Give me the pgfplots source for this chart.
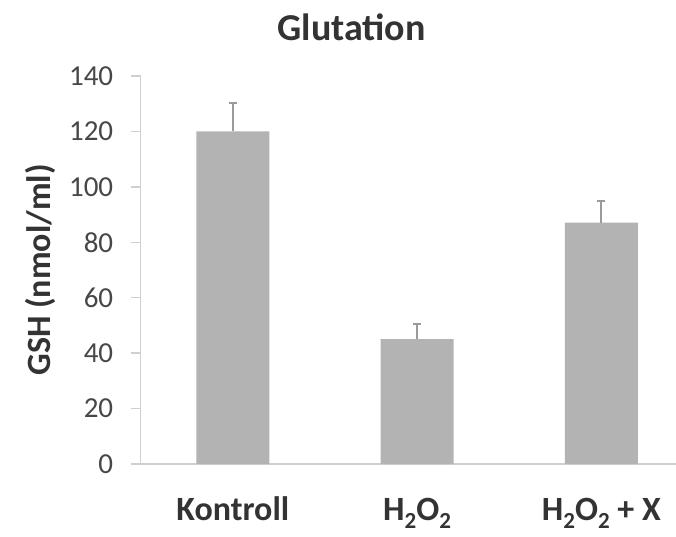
\documentclass[border=0pt]{standalone}
\usepackage{pgfplots}
\pgfplotsset{compat=1.18}
\usepackage{fontspec}
\setmainfont{Carlito}
\definecolor{barc}{HTML}{B3B3B3}
\definecolor{axc}{HTML}{D0D0D0}
\definecolor{errc}{HTML}{9A9A9A}
\definecolor{tickc}{HTML}{474747}
\definecolor{labc}{HTML}{333333}
\newcommand\sub[1]{\raisebox{-0.26em}{\fontsize{23}{23}\selectfont #1}}
\begin{document}
\begin{tikzpicture}
\begin{axis}[
  scale only axis,
  width=535.3pt, height=388pt,
  xmin=-0.5, xmax=2.405,
  ymin=0, ymax=140,
  ytick={0,20,40,60,80,100,120,140},
  xtick={0,1,2},
  xticklabels={Kontroll, H\sub{2}O\sub{2}, H\sub{2}O\sub{2} + X},
  axis x line*=bottom, axis y line*=left,
  axis line style={-, draw=axc, line width=1.5pt},
  tick align=outside,
  major tick length=10pt,
  x tick style={draw=none},
  ytick style={draw=axc, line width=1.5pt},
  extra x ticks={-0.5,0.5,1.5},
  extra x tick labels={},
  extra x tick style={major tick length=11pt, tick style={draw=axc, line width=1.5pt}},
  /pgf/number format/assume math mode=true,
  yticklabel style={font=\fontsize{29}{34}\selectfont, text=tickc, anchor=east, xshift=-14pt},
  xticklabel style={font=\fontsize{34}{40}\selectfont\bfseries, text=labc, anchor=base, yshift=-46pt},
  ylabel={GSH (nmol/ml)},
  ylabel style={font=\fontsize{34}{40}\selectfont\bfseries, text=labc, at={(axis description cs:-0.188,0.5)}, anchor=center},
  title={Glutation},
  title style={font=\fontsize{38}{44}\selectfont\bfseries, text=labc, at={(axis description cs:0.394,1.111)}, anchor=center},
  clip=false,
]
\addplot[ybar, bar width=73pt, fill=barc, draw=none,
  error bars/.cd, y dir=plus, y explicit,
  error bar style={draw=errc, line width=2pt},
  error mark options={draw=errc, line width=2pt, mark size=4pt, rotate=90}]
  coordinates {(0,120) +- (0,10.3) (1,45.1) +- (0,5.4) (2,87.1) +- (0,7.9)};
\end{axis}
\pgfresetboundingbox
\path[use as bounding box] (-140.7pt,-72pt) rectangle (535.3pt,464pt);
\end{tikzpicture}
\end{document}
